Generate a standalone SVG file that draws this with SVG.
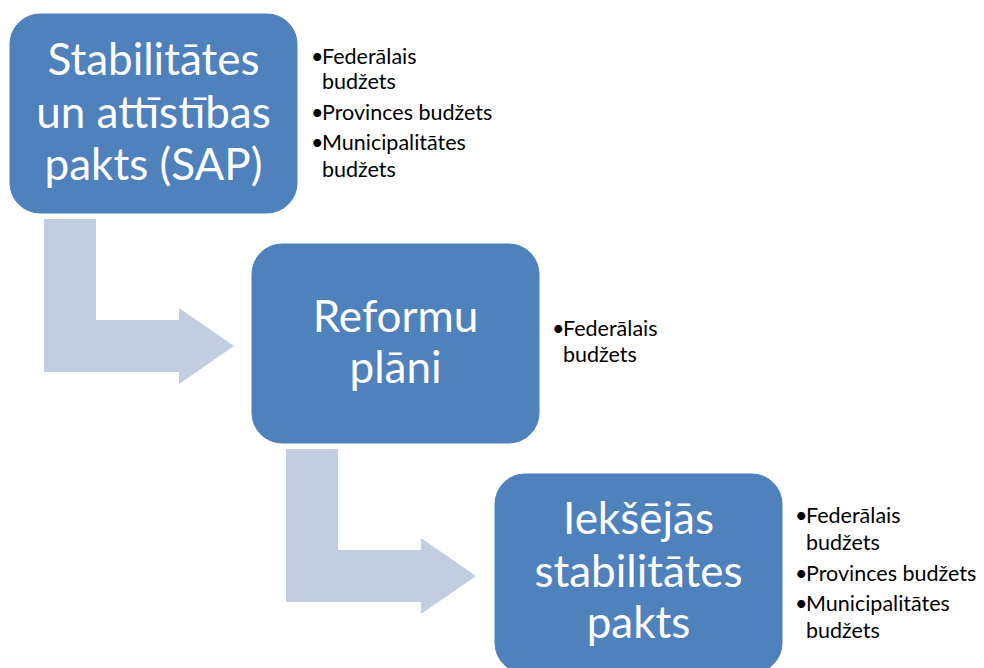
<svg xmlns="http://www.w3.org/2000/svg" width="984" height="668" viewBox="0 0 984 668">
<style>
.box{fill:#4F81BD;stroke:#4F81BD;stroke-width:1}
.arr{fill:#C3CDE1}
.bt{font-family:Lato,"Open Sans",sans-serif;font-size:44px;fill:#fff;text-anchor:middle}
.li{font-family:Lato,"Open Sans",sans-serif;font-size:21.5px;fill:#000}
</style>
<rect width="984" height="668" fill="#fff"/>
<g id="connectors">
<path class="arr" d="M44,219 H96 V320 H179 V308 L234,346 L179,384 V372 H44 Z"/>
<path class="arr" d="M286,449 H338 V550 H421 V538 L476,576 L421,614 V602 H286 Z"/>
</g>
<g id="node-sap">
<rect class="box" x="10" y="14" width="287" height="199" rx="30"/>
<text class="bt" x="153.5" y="75">Stabilitātes</text>
<text class="bt" x="153.5" y="128">un attīstības</text>
<text class="bt" x="153.5" y="180">pakts (SAP)</text>
</g>
<g id="list-sap">
<text class="li" x="311" y="64">•</text><text class="li" x="322" y="64">Federālais</text>
<text class="li" x="322" y="89">budžets</text>
<text class="li" x="311" y="120">•</text><text class="li" x="322" y="120">Provinces budžets</text>
<text class="li" x="311" y="150">•</text><text class="li" x="322" y="150">Municipalitātes</text>
<text class="li" x="322" y="177">budžets</text>
</g>
<g id="node-reformu">
<rect class="box" x="252" y="244" width="287" height="199" rx="30"/>
<text class="bt" x="395.5" y="332">Reformu</text>
<text class="bt" x="395.5" y="383">plāni</text>
</g>
<g id="list-reformu">
<text class="li" x="552" y="336">•</text><text class="li" x="563" y="336">Federālais</text>
<text class="li" x="563" y="362">budžets</text>
</g>
<g id="node-ieksejas">
<rect class="box" x="495" y="474" width="287" height="199" rx="30"/>
<text class="bt" x="638.5" y="534">Iekšējās</text>
<text class="bt" x="638.5" y="587">stabilitātes</text>
<text class="bt" x="638.5" y="638">pakts</text>
</g>
<g id="list-ieksejas">
<text class="li" x="795" y="523">•</text><text class="li" x="806" y="523">Federālais</text>
<text class="li" x="806" y="550">budžets</text>
<text class="li" x="795" y="581">•</text><text class="li" x="806" y="581">Provinces budžets</text>
<text class="li" x="795" y="611">•</text><text class="li" x="806" y="611">Municipalitātes</text>
<text class="li" x="806" y="638">budžets</text>
</g>
</svg>
